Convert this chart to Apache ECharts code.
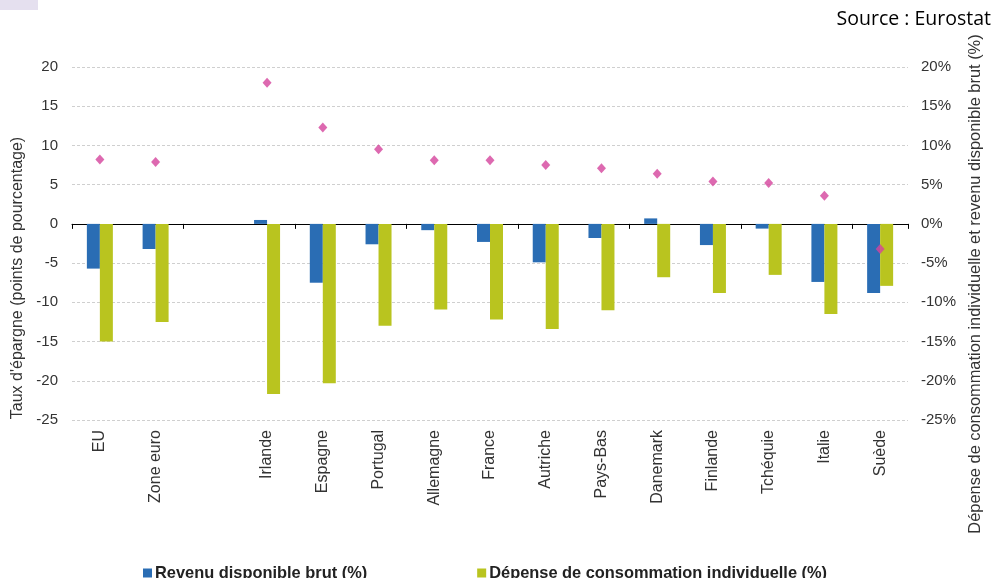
<!DOCTYPE html>
<html>
<head>
<meta charset="utf-8">
<script src="https://cdn.jsdelivr.net/npm/echarts@6/dist/echarts.min.js"></script>
<style>
html,body{margin:0;padding:0;background:#fff;}
#c{width:995px;height:578px;}
</style>
</head>
<body>
<div id="c"></div>
<script>
const categories = ['EU', 'Zone euro', '', 'Irlande', 'Espagne', 'Portugal', 'Allemagne', 'France', 'Autriche', 'Pays-Bas', 'Danemark', 'Finlande', 'Tchéquie', 'Italie', 'Suède'];
const revenu = [-5.7, -3.2, '-', 0.5, -7.5, -2.6, -0.8, -2.3, -4.9, -1.8, 0.7, -2.7, -0.6, -7.4, -8.8];
const depense = [-15.0, -12.5, '-', -21.7, -20.3, -13.0, -10.9, -12.2, -13.4, -11.0, -6.8, -8.8, -6.5, -11.5, -7.9];
const epargne = [8.2, 7.9, '-', 18.0, 12.3, 9.5, 8.1, 8.1, 7.5, 7.1, 6.4, 5.4, 5.2, 3.6, -3.2];
const leftTicks = [-25, 20, 5];
const rightTicks = [-25, 20, 5];
const seriesNames = ['Revenu disponible brut (%)', 'Dépense de consommation individuelle (%)', "Taux d'épargne"];

const FONT = 'Liberation Sans, Arial, sans-serif';
const chart = echarts.init(document.getElementById('c'), null, {renderer: 'canvas'});
chart.setOption({
  animation: false,
  backgroundColor: '#fff',
  grid: {left: 72, right: 87, top: 67, bottom: 158, containLabel: false},
  legend: {
    data: [seriesNames[0], seriesNames[1]],
    left: 138, top: 560,
    icon: 'rect', itemWidth: 9, itemHeight: 9, itemGap: 110,
    textStyle: {fontFamily: FONT, fontSize: 16.4, fontWeight: 'bold', color: '#222', padding: [0, 0, 0, -2]}
  },
  xAxis: [{
    type: 'category', data: categories, gridIndex: 0,
    axisLine: {show: true, onZero: true, lineStyle: {color: '#000', width: 1}},
    axisTick: {show: true, length: 5, lineStyle: {color: '#000'}},
    axisLabel: {show: false}
  }, {
    type: 'category', data: categories, gridIndex: 0, position: 'bottom',
    axisLine: {show: false, onZero: false},
    axisTick: {show: false},
    axisLabel: {show: true, rotate: 90, margin: 10, interval: 0, fontFamily: FONT, fontSize: 16, color: '#333'}
  }],
  yAxis: [{
    type: 'value', min: leftTicks[0], max: leftTicks[1], interval: leftTicks[2], position: 'left',
    axisLine: {show: false}, axisTick: {show: false},
    axisLabel: {fontFamily: FONT, fontSize: 15, color: '#333', margin: 14},
    splitLine: {show: true, lineStyle: {color: '#cfcfcf', type: [3, 2], width: 1}}
  }, {
    type: 'value', min: rightTicks[0], max: rightTicks[1], interval: rightTicks[2], position: 'right',
    axisLine: {show: false}, axisTick: {show: false},
    axisLabel: {fontFamily: FONT, fontSize: 15, color: '#333', margin: 13, formatter: '{value}%'},
    splitLine: {show: false}
  }],
  series: [{
    name: seriesNames[0], type: 'bar', xAxisIndex: 0, yAxisIndex: 1,
    data: revenu, barWidth: 13, barGap: '0%',
    itemStyle: {color: '#2a6db4'}
  }, {
    name: seriesNames[1], type: 'bar', xAxisIndex: 0, yAxisIndex: 1,
    data: depense, barWidth: 13, barGap: '0%',
    itemStyle: {color: '#b9c41f'}
  }, {
    name: seriesNames[2], type: 'scatter', xAxisIndex: 0, yAxisIndex: 0,
    data: epargne, symbol: 'diamond', symbolSize: [9, 10],
    itemStyle: {color: '#d4449c'}, z: 5
  }],
  graphic: [
    {type: 'rect', left: 0, top: 0, shape: {width: 38, height: 10}, style: {fill: '#e5e0ef'}},
    {type: 'text', right: 4, top: 9, style: {text: 'Source : Eurostat', font: '19.5px "Open Sans", "Noto Sans", sans-serif', fill: '#000'}},
    {type: 'text', x: 18, y: 278, rotation: Math.PI / 2,
     style: {text: "Taux d'épargne (points de pourcentage)", font: '16px ' + FONT, fill: '#333', textAlign: 'center', textVerticalAlign: 'middle'}},
    {type: 'text', x: 975, y: 284, rotation: Math.PI / 2,
     style: {text: 'Dépense de consommation individuelle et revenu disponible brut (%)', font: '16.4px ' + FONT, fill: '#333', textAlign: 'center', textVerticalAlign: 'middle'}}
  ]
});
</script>
</body>
</html>
